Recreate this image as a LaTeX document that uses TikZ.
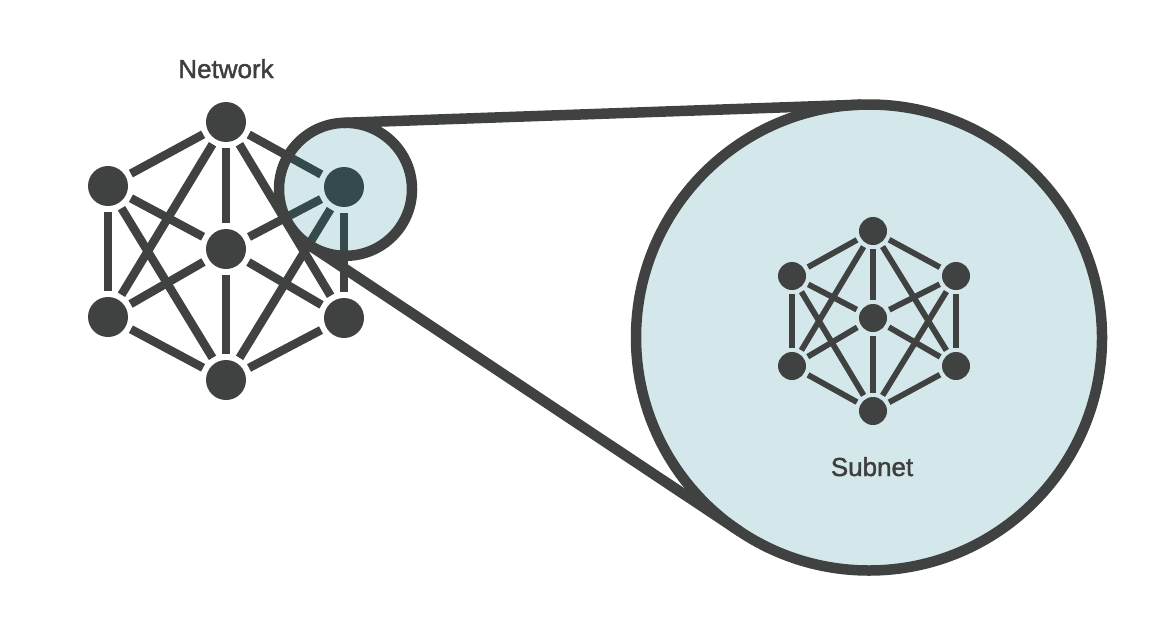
\documentclass[tikz,border=0pt]{standalone}
\usepackage{fontspec}
\usetikzlibrary{calc}
\newfontfamily\labfont{Liberation Sans}[FakeBold=1.5]
\definecolor{ink}{RGB}{64,66,65}
\definecolor{lens}{RGB}{212,232,236}
\definecolor{deep}{RGB}{52,74,76}
\definecolor{txt}{RGB}{62,62,62}
\newcommand\netlinks[2]{%
  \foreach \p/\q in {t/ul,t/ur,ul/ll,ur/lr,ll/b,lr/b,c/t,c/ul,c/ur,c/ll,c/lr,c/b,t/ll,t/lr,b/ul,b/ur}{%
    \draw[#2] (#1\p) -- (#1\q);}}
\begin{document}
\begin{tikzpicture}[x=1pt,y=-1pt,
  bignode/.style={circle,fill=ink,minimum size=40pt,inner sep=0pt,outer sep=0pt},
  smallnode/.style={circle,fill=ink,minimum size=28pt,inner sep=0pt,outer sep=0pt},
  bigedge/.style={draw=ink,line width=8.5pt,shorten <=6pt,shorten >=6pt},
  smalledge/.style={draw=ink,line width=5.8pt,shorten <=4.3pt,shorten >=4.3pt},
  ring/.style={draw=ink,line width=10.5pt},
  lbl/.style={font=\labfont\fontsize{26}{30}\selectfont,text=txt,anchor=base,inner sep=0pt}]
\useasboundingbox (0,0) rectangle (1166,642);
\fill[white] (0,0) rectangle (1166,642);
% network
\node[bignode] (nt)  at (226,122) {};
\node[bignode] (nul) at (108,186) {};
\node[bignode] (nur) at (344,187) {};
\node[bignode] (nc)  at (226,249) {};
\node[bignode] (nll) at (108,317) {};
\node[bignode] (nlr) at (344,318) {};
\node[bignode] (nb)  at (226,380) {};
\netlinks{n}{bigedge}
\node[lbl] (netlbl) at (226,78) {Network};
% lens and zoom
\coordinate (lc) at (345.5,189.3);
\coordinate (bc) at (869,337.5);
\fill[lens] (lc) circle[radius=66.5pt];
\begin{scope}
  \clip (lc) circle[radius=66.5pt];
  \foreach \p in {t,ul,ur,c,ll,lr,b}{\fill[deep] (n\p) circle[radius=20pt];}
  \netlinks{n}{bigedge,draw=deep}
\end{scope}
\coordinate (ta) at ($(lc)+(-92.01:66.5)$);
\coordinate (tb) at ($(bc)+(-92.01:233)$);
\coordinate (ba) at ($(lc)+(123.63:66.5)$);
\coordinate (bb) at ($(bc)+(123.63:233)$);
\draw[ring,fill=lens] (bc) circle[radius=233pt];
\draw[ring] (ta) -- (tb);
\draw[ring] (ba) -- (bb);
\draw[ring] (lc) circle[radius=66.5pt];
% subnet
\node[smallnode] (st)  at (873,231) {};
\node[smallnode] (sul) at (792,276) {};
\node[smallnode] (sur) at (956,276) {};
\node[smallnode] (sc)  at (873,318) {};
\node[smallnode] (sll) at (792,366) {};
\node[smallnode] (slr) at (956,366) {};
\node[smallnode] (sb)  at (873,411) {};
\netlinks{s}{smalledge}
\node[lbl] (sublbl) at (872,476) {Subnet};
\end{tikzpicture}
\end{document}
